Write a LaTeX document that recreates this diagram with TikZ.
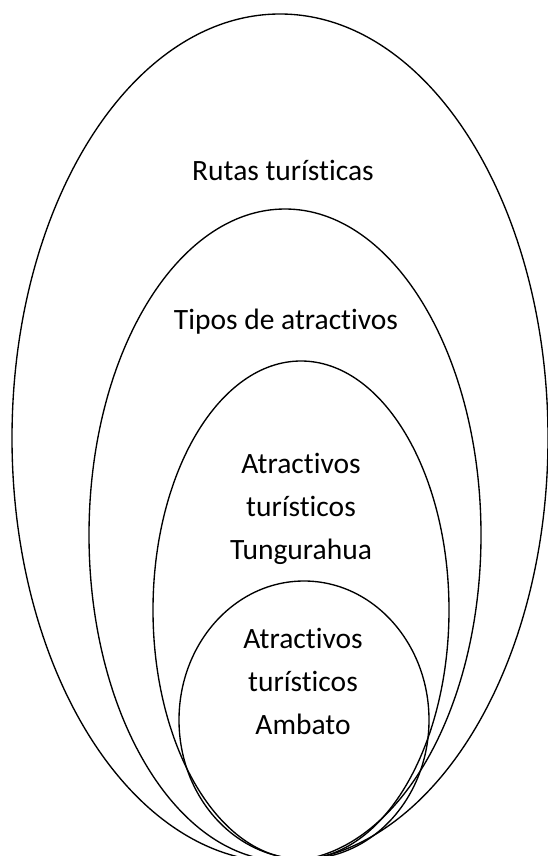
\documentclass[tikz,border=0pt]{standalone}
\usepackage{fontspec}
\setmainfont[Ligatures={NoCommon}]{Carlito}
\usetikzlibrary{shapes.geometric}
\begin{document}
\begin{tikzpicture}[x=1pt,y=-1pt,
  ring/.style={ellipse,draw=black,line width=1.35pt,inner sep=0pt},
  lbl/.style={align=center,inner sep=0pt,font=\fontsize{29.5}{43}\selectfont}]
\useasboundingbox (0,0) rectangle (548,856);
\fill[white] (0,0) rectangle (548,856);
\node[ring,minimum width=536pt,minimum height=848pt] (e1) at (280,438) {};
\node[ring,minimum width=392pt,minimum height=652pt] (e2) at (285,535) {};
\node[ring,minimum width=296pt,minimum height=498pt] (e3) at (301,610) {};
\node[ring,minimum width=250pt,minimum height=278pt] (e4) at (304,720) {};
\node[lbl] (t1) at (283,170) {Rutas turísticas};
\node[lbl] (t2) at (286,322) {Tipos de atractivos};
\node[lbl] (t3) at (301,509) {Atractivos\\turísticos\\Tungurahua};
\node[lbl] (t4) at (303,681) {Atractivos\\turísticos\\Ambato};
\end{tikzpicture}
\end{document}
